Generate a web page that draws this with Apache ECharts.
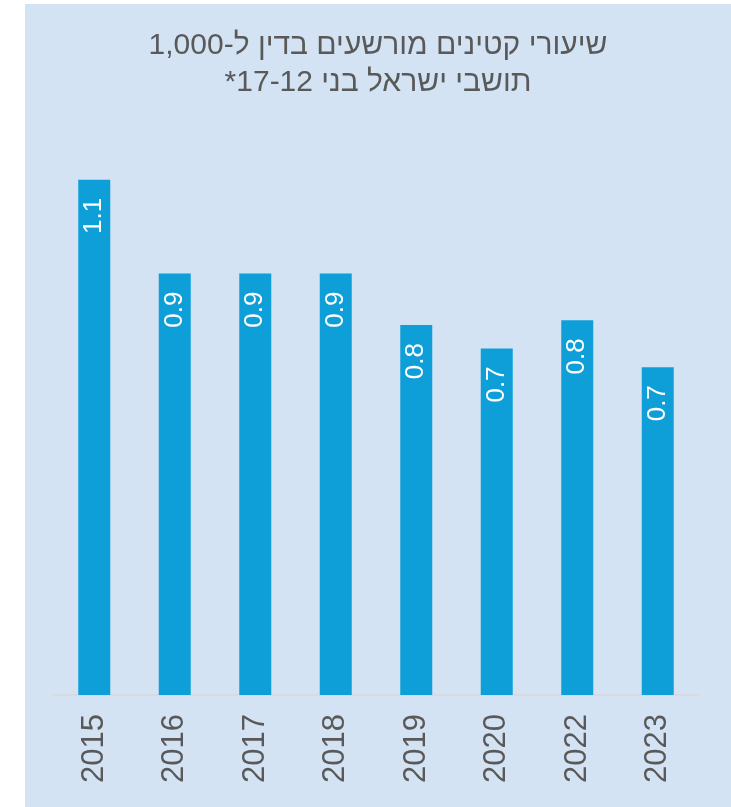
<!DOCTYPE html>
<html>
<head>
<meta charset="utf-8">
<script src="https://cdn.jsdelivr.net/npm/echarts@6/dist/echarts.min.js"></script>
<style>
  html, body { margin: 0; padding: 0; background: #ffffff; width: 731px; height: 807px; overflow: hidden; }
  #chart { position: absolute; left: 25px; top: 4px; width: 706px; height: 803px; background: #d3e3f4; }
</style>
</head>
<body>
<div id="chart" dir="rtl"></div>
<script>
const titleLines = ['שיעורי קטינים מורשעים בדין ל-1,000', 'תושבי ישראל בני 12\u201017*'];
const years = ['2015', '2016', '2017', '2018', '2019', '2020', '2022', '2023'];
const rates = [1.1, 0.9, 0.9, 0.9, 0.79, 0.74, 0.8, 0.7];

const chart = echarts.init(document.getElementById('chart'), null, { renderer: 'canvas' });
chart.setOption({
  backgroundColor: '#d3e3f4',
  animation: false,
  title: {
    text: titleLines.join('\n'),
    left: 'center',
    top: 18,
    textStyle: {
      fontFamily: 'Liberation Sans, Arial, sans-serif',
      fontSize: 30,
      fontWeight: 'normal',
      color: '#595959',
      lineHeight: 37
    }
  },
  grid: { left: 29, right: 33, top: 129, bottom: 112, containLabel: false },
  xAxis: {
    type: 'category',
    data: years,
    axisLine: { show: true, lineStyle: { color: '#d9d9d9', width: 1.5 } },
    axisTick: { show: false },
    axisLabel: {
      rotate: 90,
      margin: 19,
      color: '#595959',
      fontSize: 31,
      fontFamily: 'Liberation Sans, Arial, sans-serif'
    }
  },
  yAxis: {
    type: 'value',
    min: 0,
    max: 1.2,
    show: false,
    splitLine: { show: false }
  },
  series: [{
    type: 'bar',
    data: rates,
    barWidth: 32,
    itemStyle: { color: '#0f9fd8' },
    label: {
      show: true,
      position: 'insideTop',
      distance: 18,
      rotate: 90,
      align: 'right',
      verticalAlign: 'middle',
      color: '#ffffff',
      fontSize: 26,
      fontFamily: 'Liberation Sans, Arial, sans-serif',
      formatter: p => p.value.toFixed(1)
    }
  }]
});
</script>
</body>
</html>
